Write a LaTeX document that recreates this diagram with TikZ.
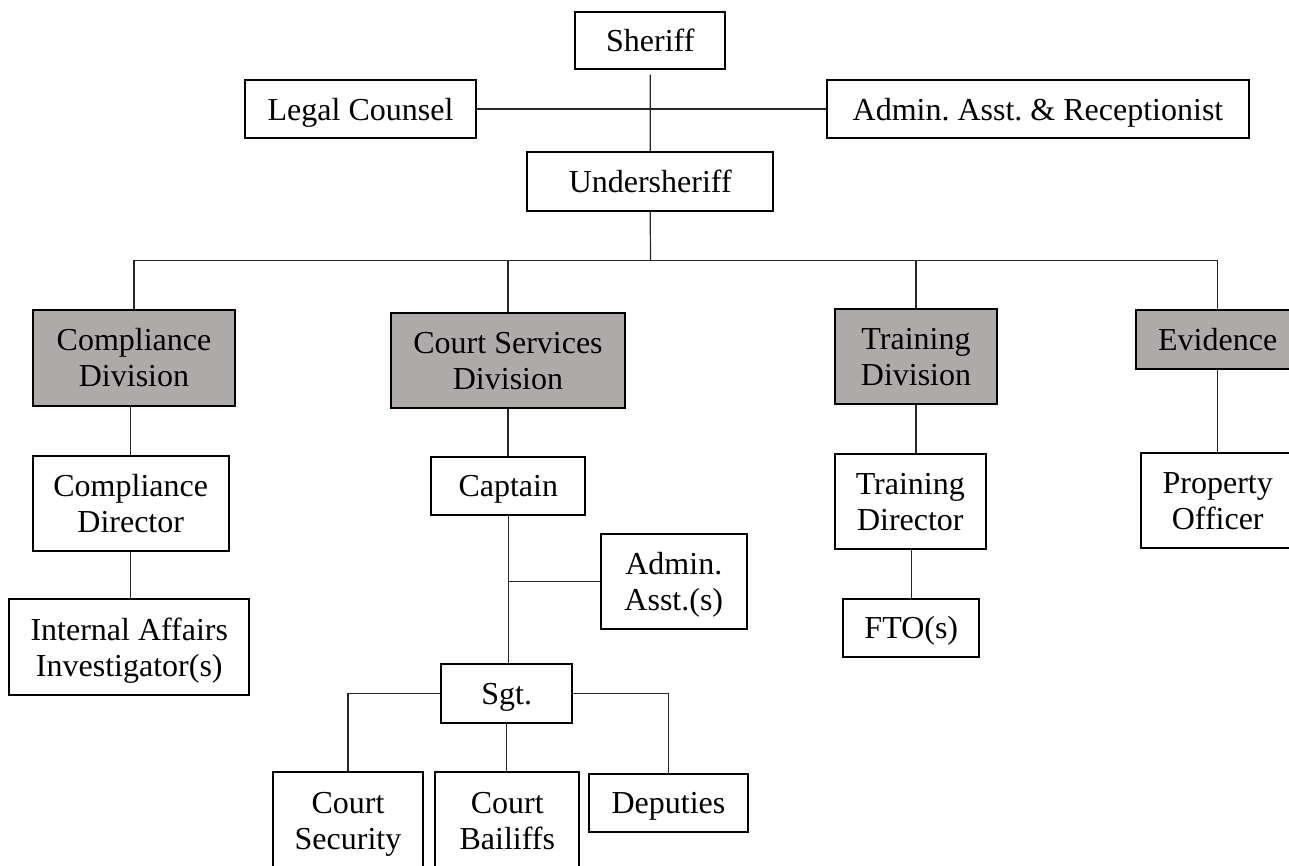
\documentclass[tikz,border=0pt]{standalone}
\usepackage{fontspec}
\setmainfont{Liberation Serif}
\frenchspacing
\definecolor{divgray}{HTML}{AEAAAA}
\newcommand{\bxl}[1]{\smash{#1}\rule[-3pt]{0pt}{28pt}}
\tikzset{
  box/.style={draw=black, line width=1.8pt, fill=white, inner sep=0pt, align=center,
    font=\fontsize{32}{36}\selectfont, rectangle},
  divbox/.style={box, fill=divgray},
  conn/.style={draw=black!85, line width=1.2pt},
}
\begin{document}
\begin{tikzpicture}[x=1pt,y=-1pt]
\clip (0,0) rectangle (1289,865);
\fill[white] (0,0) rectangle (1289,865);
% top level
\node[box, minimum width=150pt, minimum height=57.6pt] (sheriff) at (650.3,40.5) {\bxl{Sheriff}};
\node[box, minimum width=231pt, minimum height=58pt] (legal) at (360.5,109) {\bxl{Legal Counsel}};
\node[box, minimum width=422pt, minimum height=58pt] (recep) at (1038,109) {\bxl{Admin. Asst. \& Receptionist}};
\node[box, minimum width=245.7pt, minimum height=58.4pt] (under) at (650.2,181.5) {\bxl{Undersheriff}};
% divisions
\node[divbox, minimum width=202pt, minimum height=95.7pt] (cdiv) at (134,357.9) {\bxl{Compliance}\\\bxl{Division}};
\node[divbox, minimum width=234pt, minimum height=95pt] (csd) at (508,360.5) {\bxl{Court Services}\\\bxl{Division}};
\node[divbox, minimum width=162pt, minimum height=95pt] (tdiv) at (916,356.5) {\bxl{Training}\\\bxl{Division}};
\node[divbox, minimum width=163pt, minimum height=58.7pt] (evid) at (1217.7,339.3) {\bxl{Evidence}};
% third level
\node[box, minimum width=196pt, minimum height=95.3pt] (cdir) at (130.7,503.3) {\bxl{Compliance}\\\bxl{Director}};
\node[box, minimum width=154pt, minimum height=58pt] (capt) at (508.3,485.7) {\bxl{Captain}};
\node[box, minimum width=151.3pt, minimum height=95pt] (tdir) at (910.3,501.5) {\bxl{Training}\\\bxl{Director}};
\node[box, minimum width=153.4pt, minimum height=94.4pt] (prop) at (1217.7,500.5) {\bxl{Property}\\\bxl{Officer}};
% fourth level
\node[box, minimum width=240pt, minimum height=95.7pt] (ia) at (129.3,647.2) {\bxl{Internal Affairs}\\\bxl{Investigator(s)}};
\node[box, minimum width=145.7pt, minimum height=95pt] (aa) at (673.8,581.8) {\bxl{Admin.}\\\bxl{Asst.(s)}};
\node[box, minimum width=136pt, minimum height=58.3pt] (fto) at (911.3,627.8) {\bxl{FTO(s)}};
\node[box, minimum width=130.7pt, minimum height=58.7pt] (sgt) at (506.7,693.7) {\bxl{Sgt.}};
% bottom level
\node[box, minimum width=149.4pt, minimum height=96pt] (csec) at (348,820) {\bxl{Court}\\\bxl{Security}};
\node[box, minimum width=144pt, minimum height=96pt] (cbai) at (507.3,820) {\bxl{Court}\\\bxl{Bailiffs}};
\node[box, minimum width=158.4pt, minimum height=58pt] (dep) at (668.5,802.7) {\bxl{Deputies}};
% connectors
\coordinate (bar) at (650.5,260.5);
\draw[conn, shorten <=4.5pt] (sheriff.south) -- (under.north);
\draw[conn] (legal.east) -- (recep.west);
\draw[conn] (under.south) -- (bar);
\draw[conn] (cdiv.north) -- (cdiv.north |- bar) -- (evid.north |- bar) -- (evid.north);
\draw[conn] (csd.north) -- (csd.north |- bar);
\draw[conn] (tdiv.north) -- (tdiv.north |- bar);
\draw[conn] (cdir.north) -- (cdir.north |- cdiv.south);
\draw[conn] (cdir.south) -- (cdir.south |- ia.north);
\draw[conn] (csd.south) -- (csd.south |- capt.north);
\draw[conn] (capt.south) -- (capt.south |- sgt.north);
\draw[conn] (capt.south |- aa.west) -- (aa.west);
\draw[conn] (sgt.west) -- (csec.north |- sgt.west) -- (csec.north);
\draw[conn] (sgt.east) -- (dep.north |- sgt.east) -- (dep.north);
\draw[conn] (sgt.south) -- (sgt.south |- cbai.north);
\draw[conn] (tdiv.south) -- (tdiv.south |- tdir.north);
\draw[conn] (fto.north) -- (fto.north |- tdir.south);
\draw[conn] (evid.south) -- (prop.north);
\end{tikzpicture}
\end{document}
